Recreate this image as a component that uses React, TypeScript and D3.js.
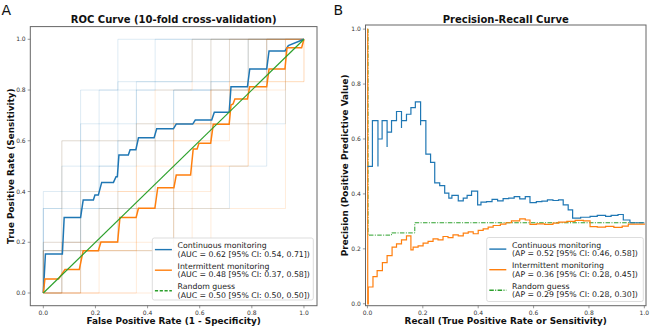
import React from "react";
import * as d3 from "d3";

type Pt = [number, number];

const tickValues = [0, 0.2, 0.4, 0.6, 0.8, 1.0];

// mean ROC curves across the 10 folds (fpr, tpr)
const rocContinuous: Pt[] = [
  [0, 0], [0.008, 0.154], [0.073, 0.154], [0.08, 0.298], [0.143, 0.298], [0.153, 0.367],
  [0.192, 0.367], [0.198, 0.386], [0.211, 0.386], [0.224, 0.436], [0.269, 0.436], [0.279, 0.458],
  [0.284, 0.458], [0.29, 0.544], [0.326, 0.544], [0.333, 0.565], [0.355, 0.565], [0.365, 0.612],
  [0.425, 0.612], [0.435, 0.647], [0.499, 0.647], [0.51, 0.666], [0.573, 0.666], [0.583, 0.682],
  [0.646, 0.682], [0.656, 0.712], [0.713, 0.712], [0.72, 0.813], [0.783, 0.813], [0.792, 0.883],
  [0.857, 0.883], [0.866, 0.954], [0.927, 0.954], [0.94, 0.975], [1, 1],
];
const rocIntermittent: Pt[] = [
  [0, 0], [0.006, 0.055], [0.058, 0.055], [0.083, 0.093], [0.138, 0.093], [0.153, 0.167],
  [0.211, 0.167], [0.221, 0.201], [0.285, 0.201], [0.294, 0.298], [0.356, 0.298], [0.365, 0.334],
  [0.428, 0.334], [0.439, 0.415], [0.501, 0.415], [0.51, 0.465], [0.565, 0.465], [0.575, 0.568],
  [0.59, 0.568], [0.597, 0.59], [0.642, 0.59], [0.652, 0.665], [0.713, 0.665], [0.72, 0.741],
  [0.728, 0.745], [0.735, 0.765], [0.783, 0.765], [0.792, 0.813], [0.857, 0.813], [0.866, 0.883],
  [0.927, 0.883], [0.935, 0.967], [0.991, 0.967], [1, 1],
];
const rocChance: Pt[] = [[0, 0], [1, 1]];

// per-fold ROC curves
const foldsContinuous: Pt[][] = [
  [[0, 0], [0, 0.333], [0.071, 0.333], [0.071, 0.6], [0.143, 0.6], [0.143, 0.8], [0.286, 0.8], [0.286, 1], [1, 1]],
  [[0, 0], [0, 0.167], [0.214, 0.167], [0.214, 0.5], [0.357, 0.5], [0.357, 0.833], [0.714, 0.833], [0.714, 1], [1, 1]],
  [[0, 0], [0.071, 0], [0.071, 0.2], [0.286, 0.2], [0.286, 0.6], [0.5, 0.6], [0.5, 0.8], [0.786, 0.8], [0.786, 1], [1, 1]],
  [[0, 0], [0, 0.167], [0.143, 0.167], [0.143, 0.333], [0.429, 0.333], [0.429, 0.667], [0.929, 0.667], [0.929, 1], [1, 1]],
  [[0, 0], [0, 0.4], [0.214, 0.4], [0.214, 0.8], [0.643, 0.8], [0.643, 1], [1, 1]],
  [[0, 0], [0, 0.333], [0.714, 0.333], [0.714, 0.5], [0.857, 0.5], [0.857, 1], [1, 1]],
  [[0, 0], [0.071, 0], [0.071, 0.5], [0.286, 0.5], [0.286, 0.833], [0.571, 0.833], [0.571, 1], [1, 1]],
  [[0, 0], [0, 0.2], [0.143, 0.2], [0.143, 0.667], [0.5, 0.667], [0.5, 0.8], [0.786, 0.8], [0.786, 1], [1, 1]],
  [[0, 0], [0, 0.167], [0.5, 0.167], [0.5, 0.5], [0.643, 0.5], [0.643, 0.833], [0.857, 0.833], [0.857, 1], [1, 1]],
  [[0, 0], [0.143, 0], [0.143, 0.6], [0.357, 0.6], [0.357, 0.8], [0.429, 0.8], [0.429, 1], [1, 1]],
];
const foldsIntermittent: Pt[][] = [
  [[0, 0], [0.143, 0], [0.143, 0.4], [0.643, 0.4], [0.643, 0.8], [0.857, 0.8], [0.857, 1], [1, 1]],
  [[0, 0], [0, 0.167], [0.571, 0.167], [0.571, 0.5], [0.786, 0.5], [0.786, 0.833], [1, 0.833], [1, 1]],
  [[0, 0], [0.357, 0], [0.357, 0.333], [0.929, 0.333], [0.929, 1], [1, 1]],
  [[0, 0], [0.071, 0], [0.071, 0.2], [0.5, 0.2], [0.5, 0.6], [0.714, 0.6], [0.714, 1], [1, 1]],
  [[0, 0], [0, 0.2], [0.286, 0.2], [0.286, 0.4], [0.429, 0.4], [0.429, 0.8], [0.571, 0.8], [0.571, 1], [1, 1]],
  [[0, 0], [0.5, 0], [0.5, 0.667], [0.714, 0.667], [0.714, 0.833], [1, 0.833], [1, 1]],
  [[0, 0], [0.214, 0], [0.214, 0.333], [0.357, 0.333], [0.357, 0.667], [0.857, 0.667], [0.857, 1], [1, 1]],
  [[0, 0], [0.071, 0], [0.071, 0.6], [0.643, 0.6], [0.643, 0.8], [0.929, 0.8], [0.929, 1], [1, 1]],
  [[0, 0], [0.143, 0], [0.143, 0.167], [0.643, 0.167], [0.643, 0.5], [0.786, 0.5], [0.786, 1], [1, 1]],
  [[0, 0], [0, 0.167], [0.357, 0.167], [0.357, 0.5], [0.5, 0.5], [0.5, 0.667], [0.643, 0.667], [0.643, 1], [1, 1]],
];

// mean precision-recall curves (recall, precision), drawn as steps
const prContinuous: Pt[] = [
  [0, 0.5], [0.018, 0.667], [0.038, 0.5], [0.038, 0.6], [0.053, 0.667], [0.071, 0.571], [0.071, 0.625],
  [0.087, 0.667], [0.105, 0.7], [0.123, 0.64], [0.123, 0.667], [0.141, 0.69], [0.157, 0.714],
  [0.173, 0.735], [0.192, 0.65], [0.192, 0.667], [0.211, 0.545], [0.228, 0.515], [0.243, 0.44],
  [0.261, 0.43], [0.279, 0.403], [0.294, 0.385], [0.305, 0.395], [0.328, 0.375], [0.346, 0.385],
  [0.36, 0.395], [0.376, 0.41], [0.398, 0.36], [0.41, 0.37], [0.43, 0.372], [0.45, 0.38],
  [0.47, 0.375], [0.49, 0.383], [0.51, 0.385], [0.53, 0.39], [0.55, 0.382], [0.57, 0.39],
  [0.587, 0.368], [0.61, 0.372], [0.63, 0.374], [0.65, 0.378], [0.67, 0.376], [0.69, 0.378],
  [0.707, 0.36], [0.725, 0.342], [0.741, 0.312], [0.77, 0.315], [0.804, 0.318], [0.83, 0.322],
  [0.86, 0.318], [0.88, 0.322], [0.905, 0.325], [0.924, 0.305], [0.948, 0.295], [1, 0.295],
];
const prIntermittent: Pt[] = [
  [0, 1.0], [0.001, 0.0], [0.003, 0.061], [0.02, 0.099], [0.035, 0.121], [0.054, 0.15], [0.071, 0.175],
  [0.089, 0.206], [0.105, 0.218], [0.123, 0.233], [0.141, 0.247], [0.157, 0.196], [0.165, 0.206],
  [0.183, 0.211], [0.201, 0.221], [0.219, 0.227], [0.237, 0.236], [0.255, 0.233], [0.273, 0.245],
  [0.291, 0.241], [0.309, 0.251], [0.328, 0.247], [0.346, 0.257], [0.364, 0.262], [0.382, 0.255],
  [0.4, 0.267], [0.418, 0.273], [0.436, 0.279], [0.454, 0.285], [0.48, 0.29], [0.5, 0.295],
  [0.52, 0.302], [0.55, 0.309], [0.57, 0.305], [0.587, 0.289], [0.61, 0.291], [0.64, 0.289],
  [0.67, 0.294], [0.69, 0.297], [0.72, 0.3], [0.75, 0.304], [0.78, 0.302], [0.804, 0.281],
  [0.83, 0.279], [0.86, 0.282], [0.89, 0.278], [0.92, 0.283], [0.942, 0.29], [1, 0.292],
];
const prChance: Pt[] = [[0, 1.0], [0.002, 0.25], [0.087, 0.258], [0.171, 0.295], [1, 0.295]];

const rocLegendText = [
  ["Continuous monitoring", "(AUC = 0.62 [95% CI: 0.54, 0.71])"],
  ["Intermittent monitoring", "(AUC = 0.48 [95% CI: 0.37, 0.58])"],
  ["Random guess", "(AUC = 0.50 [95% CI: 0.50, 0.50])"],
];
const prLegendText = [
  ["Continuous monitoring", "(AP = 0.52 [95% CI: 0.46, 0.58])"],
  ["Intermittent monitoring", "(AP = 0.36 [95% CI: 0.28, 0.45])"],
  ["Random guess", "(AP = 0.29 [95% CI: 0.28, 0.30])"],
];

const BLUE = "#1f77b4";
const ORANGE = "#ff7f0e";
const GREEN = "#2ca02c";
const FONT = "DejaVu Sans, sans-serif";

type Scale = d3.ScaleLinear<number, number>;

function Frame({ x, y, title, xLabel, yLabel, yLabelX }: {
  x: Scale; y: Scale; title: string; xLabel: string; yLabel: string; yLabelX: number;
}) {
  const [x0, x1] = x.range();
  const [y0, y1] = y.range();
  const cx = (x0 + x1) / 2;
  const cy = (y0 + y1) / 2;
  return (
    <g fontFamily={FONT}>
      <rect x={x0} y={y1} width={x1 - x0} height={y0 - y1} fill="none" stroke="#666" strokeWidth={1} />
      {tickValues.map((t) => (
        <g key={"x" + t}>
          <line x1={x(t)} x2={x(t)} y1={y0} y2={y0 + 2.6} stroke="#555" strokeWidth={0.6} />
          <text x={x(t)} y={314.5} fontSize={6} fill="#333" textAnchor="middle">{t.toFixed(1)}</text>
        </g>
      ))}
      {tickValues.map((t) => (
        <g key={"y" + t}>
          <line x1={x0} x2={x0 - 2.6} y1={y(t)} y2={y(t)} stroke="#555" strokeWidth={0.6} />
          <text x={x0 - 4.6} y={y(t) + 2.1} fontSize={6} fill="#333" textAnchor="end">{t.toFixed(1)}</text>
        </g>
      ))}
      <text x={cx} y={23.3} fontSize={10} fontWeight="bold" textAnchor="middle" fill="#111">{title}</text>
      <text x={cx} y={324.3} fontSize={8.9} fontWeight="bold" textAnchor="middle" fill="#111">{xLabel}</text>
      <text transform={`translate(${yLabelX},${cy}) rotate(-90)`} fontSize={8.9} fontWeight="bold"
        textAnchor="middle" fill="#111">{yLabel}</text>
    </g>
  );
}

function Legend({ left, top, width, height, text, dashes }: {
  left: number; top: number; width: number; height: number; text: string[][]; dashes: string[];
}) {
  const colors = [BLUE, ORANGE, GREEN];
  return (
    <g fontFamily={FONT}>
      <rect x={left} y={top} width={width} height={height} rx={2} fill="white" fillOpacity={0.85}
        stroke="#d4d4d4" strokeWidth={0.8} />
      {text.map((lines, i) => {
        const c = top + 11.6 + i * 20.6;
        return (
          <g key={i}>
            <line x1={left + 2.6} x2={left + 19.6} y1={c} y2={c} stroke={colors[i]} strokeWidth={1.4}
              strokeDasharray={dashes[i]} />
            <text x={left + 25.3} y={c - 4.35 + 2.8} fontSize={7.8} fill="#222">{lines[0]}</text>
            <text x={left + 25.3} y={c + 4.35 + 2.8} fontSize={7.8} fill="#222">{lines[1]}</text>
          </g>
        );
      })}
    </g>
  );
}

export default function App() {
  // ROC panel scales
  const rx = d3.scaleLinear().domain([-0.05, 1.05]).range([30.3, 317]);
  const ry = d3.scaleLinear().domain([-0.05, 1.05]).range([305.7, 26.6]);
  // precision-recall panel scales
  const px = d3.scaleLinear().domain([-0.007, 1.006]).range([365.5, 646]);
  const py = d3.scaleLinear().domain([-0.007, 1.015]).range([305.7, 25]);

  const rocLine = d3.line<Pt>().x((d) => rx(d[0])).y((d) => ry(d[1]));
  const prLine = d3.line<Pt>().x((d) => px(d[0])).y((d) => py(d[1])).curve(d3.curveStepAfter);

  return (
    <svg width={650} height={329} style={{ position: "absolute", left: 0, top: 0, background: "white" }}>
      <text x={1.5} y={15.3} fontFamily={FONT} fontSize={14} fill="#111">A</text>
      <text x={333.5} y={15.3} fontFamily={FONT} fontSize={14} fill="#111">B</text>

      <g fill="none">
        {foldsContinuous.map((f, i) => (
          <path key={"c" + i} d={rocLine(f) ?? ""} stroke={BLUE} strokeOpacity={0.17} strokeWidth={0.9} />
        ))}
        {foldsIntermittent.map((f, i) => (
          <path key={"i" + i} d={rocLine(f) ?? ""} stroke={ORANGE} strokeOpacity={0.17} strokeWidth={0.9} />
        ))}
        <path d={rocLine(rocContinuous) ?? ""} stroke={BLUE} strokeWidth={1.5} />
        <path d={rocLine(rocIntermittent) ?? ""} stroke={ORANGE} strokeWidth={1.5} />
        <path d={rocLine(rocChance) ?? ""} stroke={GREEN} strokeWidth={1.2} />
      </g>
      <Frame x={rx} y={ry} title="ROC Curve (10-fold cross-validation)"
        xLabel="False Positive Rate (1 - Specificity)" yLabel="True Positive Rate (Sensitivity)" yLabelX={13.8} />
      <Legend left={152.3} top={238} width={161} height={62} text={rocLegendText} dashes={["", "", "3.2,1.6"]} />

      <g fill="none">
        <path d={prLine(prChance) ?? ""} stroke={GREEN} strokeWidth={1} strokeDasharray="4.5,1.4,1,1.4" />
        <path d={prLine(prIntermittent) ?? ""} stroke={ORANGE} strokeWidth={1.2} />
        <path d={prLine(prContinuous) ?? ""} stroke={BLUE} strokeWidth={1.2} />
      </g>
      <Frame x={px} y={py} title="Precision-Recall Curve"
        xLabel="Recall (True Positive Rate or Sensitivity)" yLabel="Precision (Positive Predictive Value)"
        yLabelX={348.3} />
      <Legend left={486.7} top={237.5} width={156.6} height={64} text={prLegendText}
        dashes={["", "", "4.5,1.4,1,1.4"]} />
    </svg>
  );
}
